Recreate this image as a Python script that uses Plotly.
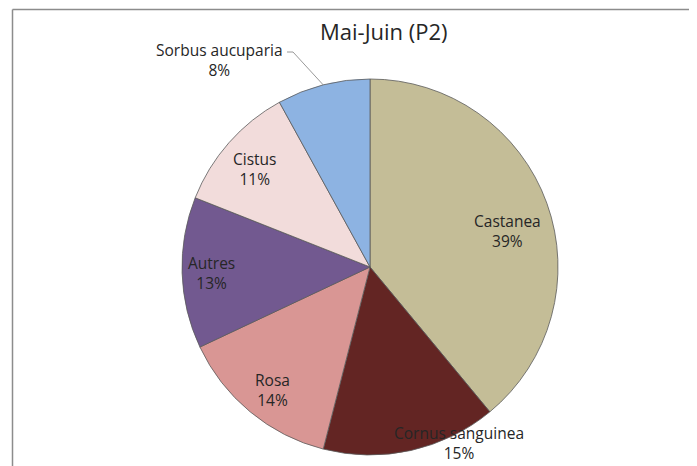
import math
import plotly.graph_objects as go

W, H = 697, 466          # target window
OFF = 8                  # page body margin
FW, FH = W - OFF, H - OFF

categories = ["Castanea", "Cornus sanguinea", "Rosa", "Autres", "Cistus", "Sorbus aucuparia"]
values = [39, 15, 14, 13, 11, 8]
colors = ["#C4BD97", "#632523", "#D99694", "#725990", "#F2DCDB", "#8DB3E2"]
title_text = "Mai-Juin (P2)"

# label anchor positions (window pixels) - layout only
label_pos = {
    "Castanea": (507, 231),
    "Cornus sanguinea": (459, 443),
    "Rosa": (272, 390),
    "Autres": (211, 273),
    "Cistus": (254, 169),
    "Sorbus aucuparia": (219, 60),
}

def px(x):
    return (x - OFF) / FW

def py(y):
    return 1 - (y - OFF) / FH

cx, cy, r = 370, 267, 188

fig = go.Figure(go.Pie(
    labels=categories,
    values=values,
    sort=False,
    direction="clockwise",
    rotation=0,
    marker=dict(colors=colors, line=dict(color="#5a5a5a", width=0.8)),
    textinfo="none",
    hoverinfo="label+percent",
    showlegend=False,
    domain=dict(x=[px(cx - r), px(cx + r)], y=[py(cy + r), py(cy - r)]),
))

total = sum(values)
annotations = []
for cat, v in zip(categories, values):
    x, y = label_pos[cat]
    pct = round(100 * v / total)
    annotations.append(dict(
        x=px(x), y=py(y), xref="paper", yref="paper",
        text=f"{cat}<br>{pct}%", showarrow=False,
        font=dict(family="Open Sans", size=15.5, color="#262626"),
        xanchor="center", yanchor="middle", align="center",
    ))

annotations.append(dict(
    x=px(384), y=py(31), xref="paper", yref="paper", text=title_text,
    showarrow=False, font=dict(family="Open Sans", size=22, color="#262626"),
    xanchor="center", yanchor="middle",
))

# leader line for Sorbus (to mid-angle of its slice on the pie edge)
cum = sum(values[:-1]) + values[-1] / 2
ang = 2 * math.pi * cum / total
ex = cx + r * math.sin(ang)
ey = cy - r * math.cos(ang)

shapes = [
    dict(type="line", xref="paper", yref="paper", x0=px(12.5), x1=1, y0=py(9.5), y1=py(9.5),
         line=dict(color="#8c8c8c", width=1.5)),
    dict(type="line", xref="paper", yref="paper", x0=px(12.5), x1=px(12.5), y0=py(9.5), y1=0,
         line=dict(color="#8c8c8c", width=1.5)),
    dict(type="path", xref="paper", yref="paper",
         path=f"M {px(287)} {py(52)} L {px(293)} {py(52)} L {px(ex)} {py(ey)}",
         line=dict(color="#7f7f7f", width=0.8)),
]

fig.update_layout(
    width=FW, height=FH,
    margin=dict(l=0, r=0, t=0, b=0),
    paper_bgcolor="white", plot_bgcolor="white",
    annotations=annotations, shapes=shapes,
)

fig.write_html("out.html")
